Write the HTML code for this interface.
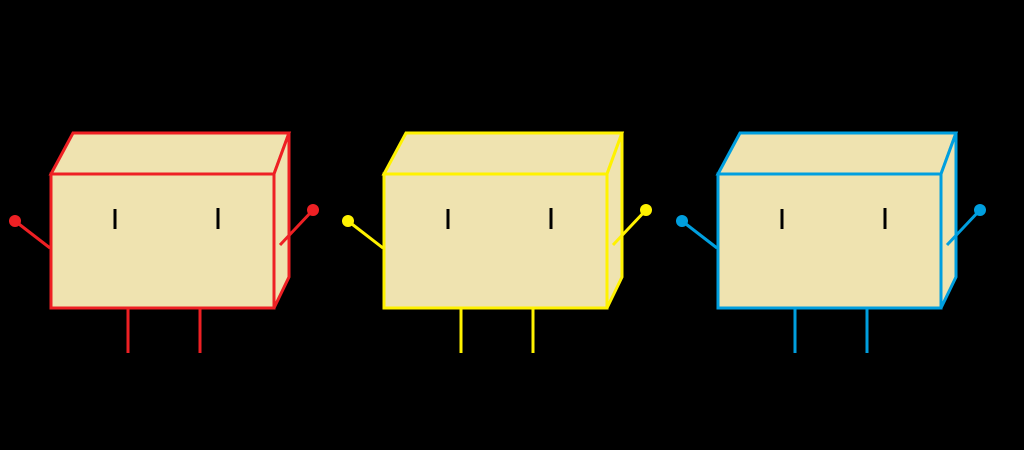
<!DOCTYPE html><html><head><style>body{margin:0;background:#000}svg{display:block}</style></head><body>
<svg width="1024" height="450" viewBox="0 0 1024 450" xmlns="http://www.w3.org/2000/svg">
<defs>
<g id="b" fill="#EFE3B0" stroke-width="3" stroke-linejoin="miter">
<polygon points="51,174 73,133 289,133 274,174"/>
<polygon points="274,174 289,133 289,277 274,308"/>
<rect x="51" y="174" width="223" height="134"/>
<line x1="50" y1="248" x2="15" y2="221"/>
<line x1="280" y1="245" x2="313" y2="210"/>
<line x1="128" y1="308" x2="128" y2="353"/>
<line x1="200" y1="308" x2="200" y2="353"/>
<line x1="115" y1="209" x2="115" y2="229" stroke="#000"/>
<line x1="218" y1="208" x2="218" y2="229" stroke="#000"/>
</g>
</defs>
<g stroke="#EE2024"><use href="#b"/><circle cx="15" cy="221" r="6" fill="#EE2024" stroke="none"/><circle cx="313" cy="210" r="6" fill="#EE2024" stroke="none"/></g>
<g stroke="#FFF200" transform="translate(333,0)"><use href="#b"/><circle cx="15" cy="221" r="6" fill="#FFF200" stroke="none"/><circle cx="313" cy="210" r="6" fill="#FFF200" stroke="none"/></g>
<g stroke="#009FDF" transform="translate(667,0)"><use href="#b"/><circle cx="15" cy="221" r="6" fill="#009FDF" stroke="none"/><circle cx="313" cy="210" r="6" fill="#009FDF" stroke="none"/></g>
</svg>
</body></html>
